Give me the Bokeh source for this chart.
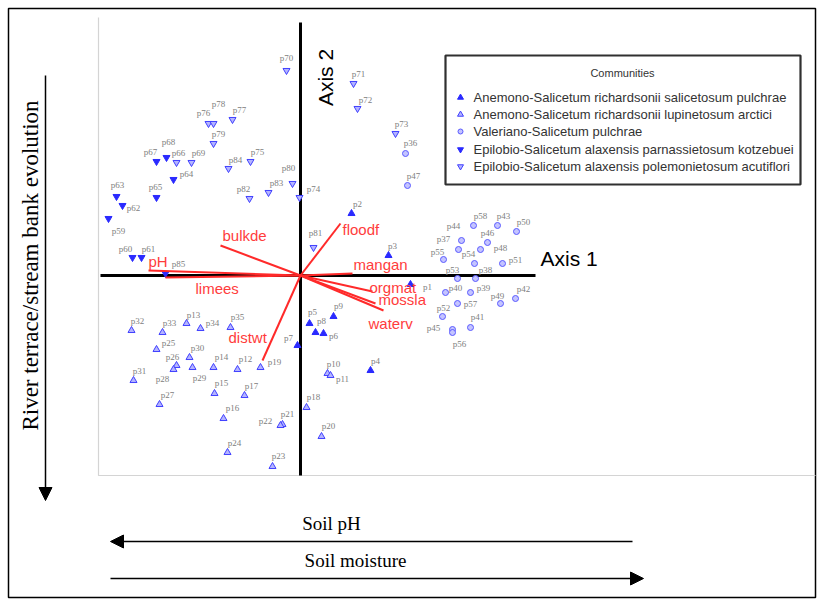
import numpy as np
from bokeh.plotting import figure
from bokeh.models import ColumnDataSource, Arrow, NormalHead, Range1d
from bokeh.core.properties import value
from bokeh.embed import file_html
from bokeh.resources import INLINE

# ---------------- data ----------------
communities = [
    "Anemono-Salicetum richardsonii salicetosum pulchrae",
    "Anemono-Salicetum richardsonii lupinetosum arctici",
    "Valeriano-Salicetum pulchrae",
    "Epilobio-Salicetum alaxensis parnassietosum kotzebuei",
    "Epilobio-Salicetum alaxensis polemonietosum acutiflori",
]

site_names = [
    "p1", "p2", "p3", "p4", "p5", "p6", "p7", "p8", "p9",
    "p10", "p11", "p12", "p13", "p14", "p15", "p16", "p17", "p18", "p19",
    "p20", "p21", "p22", "p23", "p24", "p25", "p26", "p27", "p28", "p29",
    "p30", "p31", "p32", "p33", "p34", "p35",
    "p36", "p37", "p38", "p39", "p40", "p41", "p42", "p43", "p44", "p45",
    "p46", "p47", "p48", "p49", "p50", "p51", "p52", "p53", "p54", "p55",
    "p56", "p57", "p58",
    "p59", "p60", "p61", "p62", "p63", "p64", "p65", "p67", "p68", "p85",
    "p66", "p69", "p70", "p71", "p72", "p73", "p74", "p75", "p76", "p77",
    "p78", "p79", "p80", "p81", "p82", "p83", "p84",
]
site_x = [
    1.10, 0.51, 0.88, 0.70, 0.09, 0.23, -0.03, 0.15, 0.33,
    0.27, 0.30, -0.63, -1.14, -0.87, -0.86, -0.77, -0.56, 0.06, -0.40,
    0.21, -0.18, -0.20, -0.28, -0.73, -1.44, -1.24, -1.41, -1.27, -1.08,
    -1.11, -1.67, -1.69, -1.38, -1.00, -0.70,
    1.05, 1.58, 1.75, 1.70, 1.45, 1.70, 2.15, 1.97, 1.61, 1.52,
    1.87, 1.07, 1.80, 2.00, 2.16, 2.02, 1.42, 1.57, 1.74, 1.43,
    1.52, 1.57, 1.73,
    -1.92, -1.68, -1.59, -1.78, -1.84, -1.27, -1.44, -1.44, -1.34, -1.35,
    -1.24, -1.09, -0.14, 0.53, 0.57, 0.95, -0.01, -0.50, -0.92, -0.68,
    -0.87, -0.87, -0.08, 0.13, -0.51, -0.32, -0.72,
]
site_y = [
    -0.09, 0.62, 0.20, -0.95, -0.48, -0.58, -0.70, -0.57, -0.41,
    -0.98, -1.00, -0.94, -0.48, -0.92, -1.18, -1.43, -1.20, -1.32, -0.92,
    -1.61, -1.49, -1.50, -1.91, -1.77, -0.74, -0.90, -1.29, -0.94, -0.92,
    -0.82, -1.05, -0.55, -0.57, -0.53, -0.52,
    1.22, 0.26, -0.03, -0.17, -0.17, -0.52, -0.23, 0.50, 0.35, -0.54,
    0.33, 0.90, 0.26, -0.28, 0.44, 0.12, -0.41, -0.03, 0.12, 0.16,
    -0.57, -0.28, 0.50,
    0.57, 0.18, 0.18, 0.70, 0.79, 0.96, 0.78, 1.14, 1.18, 0.02,
    1.13, 1.13, 2.05, 1.92, 1.67, 1.42, 0.78, 1.14, 1.52, 1.56,
    1.52, 1.32, 0.92, 0.28, 0.77, 0.83, 1.07,
]
site_group = [0] * 9 + [1] * 26 + [2] * 23 + [3] * 10 + [4] * 17

# label offsets (screen px) of each site label from its marker
label_dx = [
    17, 6, 4, 5, 3, 10, -9, 6, 5,
    6, 12, 8, 7, 8, 7, 9, 7, 7, 14,
    7, 5, -15, 6, 7, 12, -4, 8, -11, 7,
    8, 6, 6, 7, 12, 7,
    5, -15, 10, 13, 10, 7, 8, 6, -8, -19,
    0, 6, 20, -3, 7, 13, 1, -5, -6, -6,
    7, 13, 7,
    10, -7, 7, 11, 1, 13, -1, -6, 2, 13,
    2, 7, 0, 5, 8, 6, 14, 7, -5, 7,
    5, 5, -4, 2, -6, 8, 7,
]
label_dy = [
    2, -10, -10, -10, -12, 2, -8, -12, -11,
    -10, 3, -11, -9, -11, -11, -11, -10, -11, -6,
    -11, -11, -5, -11, -10, -7, -9, -10, 9, 10,
    -10, -10, -10, -10, -6, -11,
    -11, -11, -9, -5, -5, -11, -10, -10, -15, -2,
    -10, -10, -2, -8, -10, -4, -9, -9, -10, -8,
    11, 0, -10,
    12, -9, -9, 2, -12, -6, -11, -10, -16, -10,
    -10, -10, -13, -10, -9, -10, -9, -10, -11, -10,
    -20, -10, -16, -15, -10, -10, -9,
]

# environmental vectors
env_names = ["pH", "limees", "bulkde", "distwt", "floodf", "mangan", "orgmat", "mossla", "waterv"]
env_x = [-1.52, -1.35, -0.80, -0.38, 0.40, 0.52, 0.72, 0.75, 0.83]
env_y = [0.05, -0.02, 0.30, -0.85, 0.52, 0.02, -0.16, -0.28, -0.35]
env_dx = [0, 30, 2, -34, 2, 1, -3, 3, -15]
env_dy = [-9, 11, -10, -23, 6, -9, -4, -4, 13]

# ---------------- figure ----------------
p = figure(width=823, height=605, x_range=Range1d(-3.00, 5.23), y_range=Range1d(-3.30, 2.75),
           output_backend="svg", toolbar_location=None, x_axis_type=None, y_axis_type=None,
           min_border=0, title=None)
p.outline_line_color = None
p.background_fill_color = "white"
p.border_fill_color = "white"

# outer border
p.quad(left=[-2.92], right=[5.15], top=[2.67], bottom=[-3.22], fill_color=None,
       line_color="black", line_width=1.5)

# inner plot frame (left and bottom)
p.line(x=[-2.02, -2.02, 5.15], y=[2.58, -2.00, -2.00], line_color="#d4d4d4", line_width=1.2)

# ordination axes
p.line(x=[-2.00, 2.35], y=[0, 0], line_color="black", line_width=3)
p.line(x=[0, 0], y=[2.53, -2.00], line_color="black", line_width=3)
p.text(x=[2.40], y=[0.17], text=["Axis 1"], text_font=value("Liberation Sans"),
       text_font_size="21px", text_color="black", text_align="left", text_baseline="middle")
p.text(x=[0.25], y=[1.98], text=["Axis 2"], text_font=value("Liberation Sans"),
       text_font_size="21px", text_color="black", text_align="center", text_baseline="middle",
       angle=np.pi / 2)

# sites
styles = [
    dict(marker="triangle", size=7, fill_color="#2a2aff", line_color="#2a2aff"),
    dict(marker="triangle", size=7, fill_color="#b4b4ff", line_color="#4040ff"),
    dict(marker="circle", size=6, fill_color="#c4c4ff", line_color="#5a5aff"),
    dict(marker="inverted_triangle", size=7, fill_color="#2a2aff", line_color="#2a2aff"),
    dict(marker="inverted_triangle", size=7, fill_color="#b4b4ff", line_color="#4040ff"),
]
all_src = ColumnDataSource(dict(x=site_x, y=site_y, name=site_names, dx=label_dx, dy=label_dy))
for g in range(5):
    idx = [i for i, gg in enumerate(site_group) if gg == g]
    src = ColumnDataSource(dict(x=[site_x[i] for i in idx], y=[site_y[i] for i in idx]))
    p.scatter(x="x", y="y", source=src, line_width=1, **styles[g])

p.text(x="x", y="y", text="name", source=all_src, x_offset="dx", y_offset="dy",
       text_font=value("Liberation Serif"), text_font_size="9px", text_color="#808080",
       text_align="center", text_baseline="middle")

# environmental vectors
env_src = ColumnDataSource(dict(x0=[0] * len(env_x), y0=[0] * len(env_y), x=env_x, y=env_y,
                                name=env_names, dx=env_dx, dy=env_dy))
p.segment(x0="x0", y0="y0", x1="x", y1="y", source=env_src, line_color="#ff2a2a", line_width=2)
p.text(x="x", y="y", text="name", source=env_src, x_offset="dx", y_offset="dy",
       text_font=value("Liberation Sans"), text_font_size="15px", text_color="#ff3c3c",
       text_align="left", text_baseline="middle")

# legend
p.quad(left=[1.45], right=[5.00], top=[2.20], bottom=[0.91], fill_color="white",
       line_color="#303030", line_width=2.2)
p.text(x=[3.22], y=[2.03], text=["Communities"], text_font=value("Liberation Sans"),
       text_font_size="11px", text_color="#333333", text_align="center", text_baseline="middle")
leg_y = [1.78, 1.61, 1.44, 1.26, 1.09]
for g in range(5):
    st = dict(styles[g])
    st["size"] = st["size"] - 1
    p.scatter(x=[1.60], y=[leg_y[g]], line_width=1, **st)
p.text(x=[1.73] * 5, y=leg_y, text=communities, text_font=value("Liberation Sans"),
       text_font_size="13px", text_color="#333333", text_align="left", text_baseline="middle")

# gradient arrows
head = dict(size=13, fill_color="black", line_color="black")
p.add_layout(Arrow(end=NormalHead(**head), x_start=-2.55, y_start=2.00, x_end=-2.55, y_end=-2.25,
                   line_color="black", line_width=1.5))
p.text(x=[-2.70], y=[0.10], text=["River terrace/stream bank evolution"],
       text_font=value("Liberation Serif"), text_font_size="23px", text_color="black",
       text_align="center", text_baseline="middle", angle=np.pi / 2)

p.add_layout(Arrow(end=NormalHead(**head), x_start=3.32, y_start=-2.66, x_end=-1.90, y_end=-2.66,
                   line_color="black", line_width=1.5))
p.text(x=[0.31], y=[-2.48], text=["Soil pH"], text_font=value("Liberation Serif"),
       text_font_size="19px", text_color="black", text_align="center", text_baseline="middle")
p.add_layout(Arrow(end=NormalHead(**head), x_start=-1.90, y_start=-3.03, x_end=3.43, y_end=-3.03,
                   line_color="black", line_width=1.5))
p.text(x=[0.55], y=[-2.85], text=["Soil moisture"], text_font=value("Liberation Serif"),
       text_font_size="19px", text_color="black", text_align="center", text_baseline="middle")

open("out.html", "w").write(file_html(p, INLINE))
